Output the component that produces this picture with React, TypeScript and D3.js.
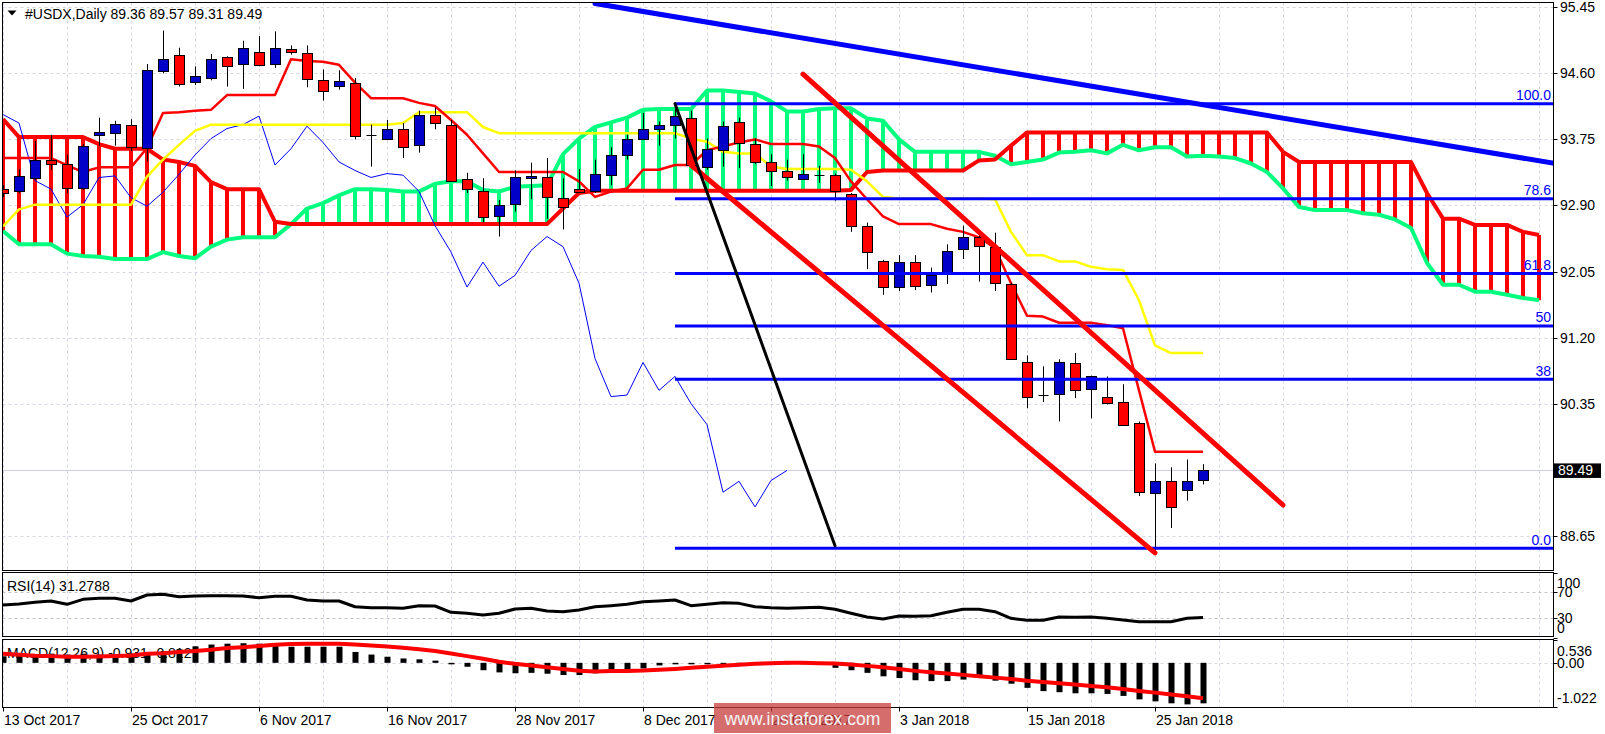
import React from "react";
import * as d3 from "d3";

// ---- price data (daily bars, index 0 = 13 Oct 2017) ----
const opens = [93.11,93.09,93.26,93.49,93.43,93.13,93.80,93.83,93.93,93.64,94.63,94.84,94.48,94.54,94.81,94.72,94.87,94.72,94.91,94.86,94.52,94.43,94.48,93.80,93.76,93.89,93.69,94.06,93.94,93.24,93.09,92.77,92.91,93.25,93.26,93.00,93.11,93.08,93.29,93.56,93.76,93.89,93.94,94.03,93.40,93.61,93.98,93.69,93.46,93.34,93.25,93.29,93.29,93.05,92.63,92.18,91.85,92.17,91.87,92.03,92.34,92.49,92.36,91.89,90.89,90.46,90.47,90.87,90.53,90.43,90.37,90.10,89.20,89.36,89.25,89.36];
const highs = [93.16,93.37,93.73,93.81,93.55,93.69,94.03,93.99,94.01,94.72,95.15,94.93,94.69,94.85,94.82,95.02,95.08,95.14,94.96,94.96,94.65,94.64,94.54,93.94,94.00,93.96,94.12,94.16,94.00,93.32,93.25,92.97,93.35,93.45,93.51,93.25,93.37,93.49,93.65,93.81,94.09,93.98,94.21,94.12,93.76,93.98,94.03,93.76,93.56,93.49,93.56,93.41,93.31,93.06,92.68,92.20,92.26,92.26,92.10,92.40,92.64,92.54,92.55,91.90,90.97,90.83,90.92,91.00,90.71,90.70,90.60,90.12,89.58,89.53,89.63,89.57];
const lows = [93.01,93.06,93.23,93.36,93.06,93.10,93.67,93.67,93.60,93.47,94.60,94.43,94.45,94.51,94.43,94.40,94.69,94.67,94.84,94.42,94.25,94.39,93.75,93.40,93.74,93.51,93.58,93.88,93.21,93.06,92.68,92.50,92.82,92.98,92.73,92.59,93.06,93.06,93.16,93.49,93.74,93.67,93.76,93.38,93.36,93.40,93.38,93.43,93.15,93.22,93.23,93.19,92.96,92.56,92.08,91.75,91.80,91.81,91.78,91.89,92.21,91.92,91.80,90.92,90.29,90.37,90.12,90.42,90.16,90.34,90.07,89.16,88.44,88.75,89.10,89.31];
const closes = [93.06,93.28,93.49,93.44,93.12,93.67,93.84,93.95,93.65,94.64,94.79,94.47,94.56,94.79,94.70,94.92,94.70,94.92,94.87,94.52,94.38,94.50,93.80,93.81,93.89,93.66,94.07,93.96,93.22,93.11,92.75,92.91,93.26,93.28,93.00,92.89,93.07,93.30,93.55,93.76,93.89,93.94,94.05,93.42,93.63,93.92,93.71,93.46,93.35,93.26,93.31,93.29,93.08,92.64,92.30,91.85,92.17,91.86,92.00,92.32,92.50,92.37,91.90,90.93,90.44,90.46,90.88,90.52,90.70,90.35,90.08,89.21,89.35,89.02,89.36,89.49];

// ---- Ichimoku ----
const tenkan = [93.51,93.51,93.51,93.51,93.42,93.33,93.39,93.39,93.39,93.64,94.09,94.10,94.12,94.13,94.32,94.32,94.32,94.32,94.78,94.76,94.75,94.71,94.48,94.28,94.28,94.28,94.22,94.18,94.00,93.81,93.57,93.33,93.33,93.33,93.33,93.33,93.21,93.01,93.08,93.12,93.36,93.36,93.42,93.42,93.61,93.66,93.71,93.75,93.69,93.69,93.69,93.66,93.51,93.21,92.98,92.76,92.66,92.66,92.66,92.60,92.56,92.49,92.35,91.90,91.48,91.47,91.39,91.39,91.39,91.36,91.32,90.52,89.73,89.73,89.73,89.73];
const kijun = [92.63,92.85,92.91,92.91,92.91,92.91,92.91,92.91,92.91,93.27,93.49,93.68,93.86,93.94,93.94,93.94,93.94,93.94,93.94,93.94,93.94,93.94,93.94,93.94,93.94,93.96,94.10,94.10,94.10,94.10,93.91,93.83,93.83,93.83,93.83,93.83,93.83,93.83,93.83,93.83,93.83,93.83,93.83,93.76,93.72,93.59,93.57,93.57,93.40,93.37,93.37,93.37,93.37,93.36,93.21,93.01,92.99,92.99,92.99,92.99,92.99,92.99,92.98,92.56,92.26,92.26,92.18,92.18,92.11,92.08,92.07,91.68,91.10,91.00,91.00,91.00];
const spanRed = [94.01,93.78,93.78,93.78,93.78,93.78,93.69,93.63,93.63,93.63,93.49,93.46,93.41,93.20,93.11,93.11,93.11,92.69,92.66,92.66,92.66,92.66,92.66,92.66,92.66,92.66,92.66,92.66,92.66,92.66,92.66,92.66,92.66,92.66,92.66,92.86,93.06,93.09,93.09,93.09,93.09,93.09,93.09,93.09,93.09,93.09,93.09,93.09,93.09,93.09,93.09,93.09,93.09,93.10,93.33,93.35,93.35,93.35,93.35,93.35,93.35,93.48,93.49,93.67,93.84,93.84,93.84,93.84,93.84,93.84,93.84,93.84,93.84,93.84,93.84,93.84,93.84,93.84,93.84,93.84,93.59,93.46,93.46,93.46,93.46,93.46,93.46,93.46,93.46,93.06,92.73,92.73,92.65,92.65,92.65,92.56,92.52];
const spanGreen = [92.57,92.40,92.40,92.40,92.28,92.25,92.24,92.21,92.21,92.21,92.30,92.25,92.22,92.37,92.46,92.49,92.49,92.49,92.66,92.86,92.93,93.03,93.11,93.11,93.10,93.08,93.08,93.18,93.21,93.21,93.10,93.08,93.14,93.15,93.16,93.56,93.76,93.91,93.97,94.03,94.13,94.14,94.14,94.14,94.38,94.38,94.36,94.34,94.24,94.11,94.11,94.14,94.15,94.15,94.02,93.99,93.75,93.59,93.59,93.59,93.59,93.59,93.54,93.43,93.46,93.49,93.58,93.59,93.61,93.57,93.68,93.61,93.65,93.65,93.53,93.54,93.53,93.51,93.44,93.33,93.12,92.88,92.84,92.84,92.84,92.80,92.78,92.72,92.61,92.16,91.88,91.88,91.79,91.79,91.75,91.71,91.68];
const chikouShift = 26;

// ---- RSI(14) ----
const rsi = [50.5,52,54.6,56.6,51.5,59.2,60.8,60.8,56.6,65.8,66.9,63.2,64.3,64.8,64.8,64.3,61.7,63.8,63.8,58.2,56.6,56.6,47.8,46.3,46.3,45.4,49.4,48.9,39.2,37.7,35.1,37.7,44.3,45.4,41.2,40.2,42.8,47.8,49.4,51.5,55.5,56.6,58.2,49.4,51.5,54,53,47.8,46.3,45.4,46.3,46.9,43.8,37.7,32,28.9,33.5,33,34,39.2,43.8,43.8,40.2,30,26.9,27,32,31.5,32,30,27.4,24.8,24.8,24.8,30,31.28];
const rsiTicks = [100, 70, 30, 0];
const rsiLevels = [70, 30];

// ---- MACD(12,26,9) ----
const macdHist = [0.15,0.19,0.19,0.21,0.19,0.21,0.19,0.19,0.19,0.23,0.27,0.31,0.38,0.42,0.44,0.45,0.44,0.42,0.37,0.37,0.37,0.37,0.25,0.19,0.14,0.10,0.08,0.05,-0.02,-0.09,-0.17,-0.22,-0.24,-0.23,-0.25,-0.28,-0.28,-0.24,-0.19,-0.19,-0.13,-0.06,-0.02,-0.02,-0.01,-0.01,-0.01,-0.02,-0.03,-0.03,-0.03,-0.05,-0.115,-0.17,-0.23,-0.31,-0.35,-0.40,-0.42,-0.42,-0.385,-0.285,-0.41,-0.48,-0.575,-0.65,-0.675,-0.70,-0.70,-0.715,-0.76,-0.84,-0.885,-0.93,-0.955,-0.931];
const macdSignal = [0.21,0.185,0.16,0.154,0.138,0.138,0.146,0.154,0.17,0.21,0.22,0.25,0.27,0.30,0.34,0.36,0.385,0.415,0.43,0.44,0.44,0.44,0.42,0.40,0.377,0.346,0.31,0.27,0.215,0.154,0.092,0.023,-0.023,-0.06,-0.10,-0.14,-0.18,-0.20,-0.19,-0.185,-0.177,-0.16,-0.14,-0.115,-0.09,-0.07,-0.046,-0.023,-0.008,0,0,-0.008,-0.015,-0.04,-0.07,-0.10,-0.14,-0.185,-0.215,-0.246,-0.277,-0.31,-0.34,-0.37,-0.41,-0.44,-0.47,-0.50,-0.53,-0.56,-0.60,-0.646,-0.685,-0.73,-0.77,-0.812];
const macdTicks = [0.536, 0.0, -1.022];
const macdTickLabels = ["0.536", "0.00", "-1.022"];

// ---- axes ----
const priceTicks = [95.45, 94.60, 93.75, 92.90, 92.05, 91.20, 90.35, 89.50, 88.65];
const dateIdx = [0, 8, 16, 24, 32, 40, 48, 56, 64, 72];
const dateLabels = ["13 Oct 2017", "25 Oct 2017", "6 Nov 2017", "16 Nov 2017", "28 Nov 2017", "8 Dec 2017", "20 Dec 2017", "3 Jan 2018", "15 Jan 2018", "25 Jan 2018"];
const lastPrice = 89.49;

// ---- drawn objects ----
const fibHigh = 94.21;
const fibLow = 88.49;
const fibStartIdx = 42;
const fibLevels = [0, 38, 50, 61.8, 78.6, 100];
const fibLabels = ["0.0", "38", "50", "61.8", "78.6", "100.0"];
const blueTrend = [[37, 95.50], [97, 93.44]];
const redUpper = [[50, 94.59], [80, 89.045]];
const redLower = [[43, 93.42], [72, 88.43]];
const blackLine = [[42, 94.21], [52, 88.52]];

const FONT = "'Liberation Sans', Arial, sans-serif";
const BULL = "#0000C8";
const BEAR = "#FF0000";
const GREEN = "#00FF7F";
const GRID = "#d6d6e4";

export default function App() {
  const L = 2.5, R = 1553.5;
  const mainTop = 2.5, mainBot = 570.5;
  const rsiTop = 572.5, rsiBot = 636.5;
  const macdTop = 639.5, macdBot = 707.5;

  const x = d3.scaleLinear().domain([0, 96]).range([3, 1539]);
  const yP = d3.scaleLinear().domain([95.45, 88.65]).range([7.3, 535.7]);
  const yR = d3.scaleLinear().domain([0, 100]).range([637.8, 572.8]);
  const yM = d3.scaleLinear().domain([-1.022, 0.536]).range([707.3, 639.5]);

  const pLine = (arr: number[]) =>
    d3.line<number>().x((_, i) => x(i)).y((d) => yP(d))(arr) || "";
  const chikou = closes.slice(chikouShift);

  const vGrid: number[] = [];
  for (let i = 0; x(i) < R; i += 4) vGrid.push(x(i));

  const segLine = (seg: number[][]) => ({
    x1: x(seg[0][0]), y1: yP(seg[0][1]), x2: x(seg[1][0]), y2: yP(seg[1][1]),
  });

  return (
    <svg width={1605} height={734} style={{ position: "absolute", left: 0, top: 0, background: "#fff" }} fontFamily={FONT}>
      <defs>
        <clipPath id="mainClip"><rect x={L} y={mainTop} width={R - L} height={mainBot - mainTop} /></clipPath>
        <clipPath id="rsiClip"><rect x={L} y={rsiTop} width={R - L} height={rsiBot - rsiTop} /></clipPath>
        <clipPath id="macdClip"><rect x={L} y={macdTop} width={R - L} height={macdBot - macdTop} /></clipPath>
      </defs>
      <rect x={0} y={0} width={1605} height={734} fill="#fff" />

      {/* grids */}
      <g stroke={GRID} strokeWidth={1} strokeDasharray="3,3">
        {vGrid.map((gx, k) => (
          <g key={k}>
            <line x1={gx + 0.5} x2={gx + 0.5} y1={mainTop} y2={mainBot} />
            <line x1={gx + 0.5} x2={gx + 0.5} y1={rsiTop} y2={rsiBot} />
            <line x1={gx + 0.5} x2={gx + 0.5} y1={macdTop} y2={macdBot} />
          </g>
        ))}
        {priceTicks.map((p, k) => (
          <line key={k} x1={L} x2={R} y1={Math.round(yP(p)) + 0.5} y2={Math.round(yP(p)) + 0.5} />
        ))}
        <line x1={L} x2={R} y1={Math.round(yM(0)) + 0.5} y2={Math.round(yM(0)) + 0.5} />
      </g>
      <g stroke="#c4c4c4" strokeDasharray="3,3">
        {rsiLevels.map((v, k) => (
          <line key={k} x1={L} x2={R} y1={Math.round(yR(v)) + 0.5} y2={Math.round(yR(v)) + 0.5} />
        ))}
      </g>
      <line x1={L} x2={R} y1={Math.round(yP(lastPrice)) + 0.5} y2={Math.round(yP(lastPrice)) + 0.5} stroke="#d0d0e4" />

      {/* main panel */}
      <g clipPath="url(#mainClip)">
        {/* cloud hatches */}
        {spanRed.map((r, i) => (
          <line key={i} x1={x(i)} x2={x(i)} y1={yP(r)} y2={yP(spanGreen[i])}
            stroke={r > spanGreen[i] ? BEAR : GREEN} strokeWidth={4} />
        ))}
        <path d={pLine(spanGreen)} fill="none" stroke={GREEN} strokeWidth={4} strokeLinejoin="round" />
        <path d={pLine(spanRed)} fill="none" stroke={BEAR} strokeWidth={4} strokeLinejoin="round" />
        <path d={pLine(chikou)} fill="none" stroke="#0000FF" strokeWidth={1} />
        <path d={pLine(kijun)} fill="none" stroke="#FFFF00" strokeWidth={2.5} strokeLinejoin="round" />
        <path d={pLine(tenkan)} fill="none" stroke={BEAR} strokeWidth={2.5} strokeLinejoin="round" />

        {/* candles */}
        {opens.map((o, i) => {
          const c = closes[i];
          const cx = x(i) + 0.5;
          const top = yP(Math.max(o, c));
          const bot = yP(Math.min(o, c));
          const doji = bot - top < 1.5;
          return (
            <g key={i}>
              <line x1={cx} x2={cx} y1={yP(highs[i])} y2={yP(lows[i])} stroke="#000" strokeWidth={1} />
              {doji ? (
                <line x1={cx - 5} x2={cx + 5} y1={Math.round(top) + 0.5} y2={Math.round(top) + 0.5} stroke="#000" />
              ) : (
                <rect x={cx - 5} y={Math.round(top) + 0.5} width={10} height={Math.round(bot - top)}
                  fill={c > o ? BULL : BEAR} stroke="#000" strokeWidth={1} />
              )}
            </g>
          );
        })}

        {/* fibonacci */}
        {fibLevels.map((lv, k) => {
          const py = yP(fibLow + (lv / 100) * (fibHigh - fibLow));
          return (
            <g key={k}>
              <line x1={x(fibStartIdx)} x2={R} y1={py} y2={py} stroke="#0000FF" strokeWidth={3} />
              <text x={1551} y={py - 3.5} textAnchor="end" fontSize={14} fill="#0000FF">{fibLabels[k]}</text>
            </g>
          );
        })}
        <line {...segLine(blueTrend)} stroke="#0000FF" strokeWidth={5} strokeLinecap="round" />
        <line {...segLine(redUpper)} stroke={BEAR} strokeWidth={5} strokeLinecap="round" />
        <line {...segLine(redLower)} stroke={BEAR} strokeWidth={5} strokeLinecap="round" />
        <line {...segLine(blackLine)} stroke="#000" strokeWidth={3} strokeLinecap="round" />
      </g>

      {/* title */}
      <path d="M7.5,10.5 L16.5,10.5 L12,15.5 Z" fill="#000" />
      <text x={25} y={19} fontSize={14} fill="#000">#USDX,Daily  89.36 89.57 89.31 89.49</text>

      {/* RSI */}
      <text x={7} y={590.5} fontSize={14} fill="#000">RSI(14) 31.2788</text>
      <g clipPath="url(#rsiClip)">
        <path d={d3.line<number>().x((_, i) => x(i)).y((d) => yR(d))(rsi) || ""} fill="none" stroke="#000" strokeWidth={3} strokeLinejoin="round" />
      </g>

      {/* MACD */}
      <text x={7} y={658} fontSize={14} fill="#000">MACD(12,26,9) -0.931 -0.812</text>
      <g clipPath="url(#macdClip)">
        {macdHist.map((v, i) => (
          <rect key={i} x={x(i) - 2.5} width={6} y={Math.min(yM(v), yM(0))}
            height={Math.max(1.5, Math.abs(yM(v) - yM(0)))} fill="#000" />
        ))}
        <path d={d3.line<number>().x((_, i) => x(i)).y((d) => yM(d))(macdSignal) || ""} fill="none" stroke={BEAR} strokeWidth={4} strokeLinejoin="round" />
      </g>

      {/* panel frames */}
      <g fill="none" stroke="#000" strokeWidth={1}>
        <rect x={L} y={mainTop} width={R - L} height={mainBot - mainTop} />
        <rect x={L} y={rsiTop} width={R - L} height={rsiBot - rsiTop} />
        <rect x={L} y={macdTop} width={R - L} height={macdBot - macdTop} />
      </g>

      {/* right axis: price */}
      {priceTicks.map((p, k) => (
        <g key={k}>
          <line x1={R} x2={R + 4} y1={Math.round(yP(p)) + 0.5} y2={Math.round(yP(p)) + 0.5} stroke="#000" />
          <text x={1560} y={yP(p) + 5} fontSize={14} fill="#000">{p.toFixed(2)}</text>
        </g>
      ))}
      <rect x={1554} y={yP(lastPrice) - 7} width={47} height={14.5} fill="#000" />
      <text x={1558} y={yP(lastPrice) + 5} fontSize={14} fill="#fff">{lastPrice.toFixed(2)}</text>

      {/* right axis: RSI */}
      {rsiTicks.map((v, k) => {
        const ty = v === 100 ? yR(v) + 10.5 : v === 0 ? yR(v) - 10 : yR(v);
        return (
          <g key={k}>
            <line x1={R} x2={R + 4} y1={Math.round(yR(v)) + 0.5} y2={Math.round(yR(v)) + 0.5} stroke="#000" />
            <text x={1557} y={ty + 5} fontSize={14} fill="#000">{String(v)}</text>
          </g>
        );
      })}

      {/* right axis: MACD */}
      {macdTicks.map((v, k) => {
        const ty = k === 0 ? yM(v) + 11 : k === 2 ? yM(v) - 9 : yM(v);
        return (
          <g key={k}>
            <line x1={R} x2={R + 4} y1={Math.round(yM(v)) + 0.5} y2={Math.round(yM(v)) + 0.5} stroke="#000" />
            <text x={1557} y={ty + 5} fontSize={14} fill="#000">{macdTickLabels[k]}</text>
          </g>
        );
      })}

      {/* bottom axis */}
      {dateIdx.map((i, k) => (
        <g key={k}>
          <line x1={x(i) + 0.5} x2={x(i) + 0.5} y1={macdBot} y2={macdBot + 4} stroke="#000" />
          <text x={x(i) + 1} y={725} fontSize={14} fill="#000">{dateLabels[k]}</text>
        </g>
      ))}

      {/* watermark */}
      <rect x={714} y={703} width={177} height={30} fill="#c83c3c" opacity={0.75} />
      <text x={802.5} y={725} textAnchor="middle" fontSize={17.5} fill="#f4f4f4">www.instaforex.com</text>
    </svg>
  );
}
